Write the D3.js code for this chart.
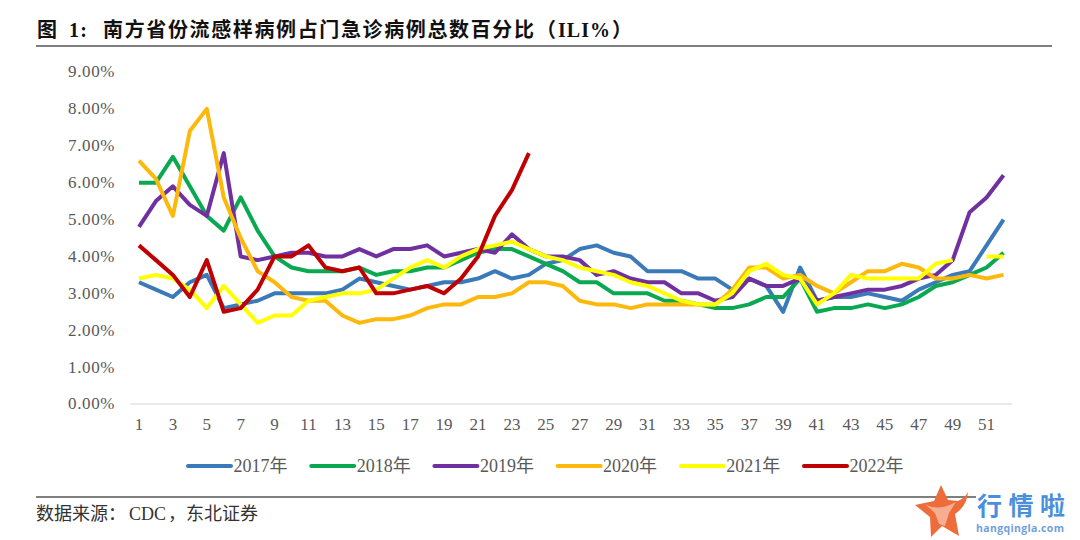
<!DOCTYPE html>
<html lang="zh">
<head>
<meta charset="utf-8">
<title>南方省份流感样病例占门急诊病例总数百分比</title>
<script src="https://d3js.org/d3.v7.min.js"></script>
<style>
    body {
        margin: 0;
        background-color: #ffffff;
    }

    text {
        font-family: "Liberation Serif", "Noto Sans CJK SC", serif;
    }

    .tick text {
        font-size: 17px;
        fill: #595959;
    }

    .yaxis .tick text {
        letter-spacing: 0.6px;
    }

    .legend text {
        font-size: 18px;
        fill: #595959;
    }
</style>
</head>
<body>
<svg id="chart" width="1080" height="540"></svg>
<script>
    const weeks = d3.range(1, 53);
    const yTicks = [0, 1, 2, 3, 4, 5, 6, 7, 8, 9];
    const years = ["2017年", "2018年", "2019年", "2020年", "2021年", "2022年"];
    const colors = ["#3a7ab8", "#0aa851", "#7030a0", "#fdb90b", "#ffff00", "#c00000"];

    const v2017 = [3.3, 3.1, 2.9, 3.3, 3.5, 2.6, 2.7, 2.8, 3.0, 3.0, 3.0, 3.0, 3.1, 3.4, 3.3, 3.2, 3.1, 3.2, 3.3, 3.3, 3.4, 3.6, 3.4, 3.5, 3.8, 3.9, 4.2, 4.3, 4.1, 4.0, 3.6, 3.6, 3.6, 3.4, 3.4, 3.1, 3.4, 3.2, 2.5, 3.7, 2.8, 2.9, 2.9, 3.0, 2.9, 2.8, 3.1, 3.3, 3.5, 3.6, 4.3, 5.0];
    const v2018 = [6.0, 6.0, 6.7, 5.9, 5.1, 4.7, 5.6, 4.7, 4.0, 3.7, 3.6, 3.6, 3.6, 3.7, 3.5, 3.6, 3.6, 3.7, 3.7, 3.9, 4.1, 4.2, 4.2, 4.0, 3.8, 3.6, 3.3, 3.3, 3.0, 3.0, 3.0, 2.8, 2.8, 2.7, 2.6, 2.6, 2.7, 2.9, 2.9, 3.4, 2.5, 2.6, 2.6, 2.7, 2.6, 2.7, 2.9, 3.2, 3.3, 3.5, 3.7, 4.1];
    const v2019 = [4.8, 5.5, 5.9, 5.4, 5.1, 6.8, 4.0, 3.9, 4.0, 4.1, 4.1, 4.0, 4.0, 4.2, 4.0, 4.2, 4.2, 4.3, 4.0, 4.1, 4.2, 4.1, 4.6, 4.2, 4.0, 4.0, 3.9, 3.5, 3.6, 3.4, 3.3, 3.3, 3.0, 3.0, 2.8, 2.9, 3.4, 3.2, 3.2, 3.4, 2.8, 2.9, 3.0, 3.1, 3.1, 3.2, 3.4, 3.5, 3.9, 5.2, 5.6, 6.2];
    const v2020 = [6.6, 6.1, 5.1, 7.4, 8.0, 5.6, 4.5, 3.6, 3.3, 2.9, 2.8, 2.8, 2.4, 2.2, 2.3, 2.3, 2.4, 2.6, 2.7, 2.7, 2.9, 2.9, 3.0, 3.3, 3.3, 3.2, 2.8, 2.7, 2.7, 2.6, 2.7, 2.7, 2.7, 2.7, 2.7, 3.1, 3.7, 3.7, 3.4, 3.5, 3.2, 3.0, 3.3, 3.6, 3.6, 3.8, 3.7, 3.4, 3.4, 3.5, 3.4, 3.5];
    const v2021 = [3.4, 3.5, 3.4, 3.1, 2.6, 3.2, 2.7, 2.2, 2.4, 2.4, 2.8, 2.9, 3.0, 3.0, 3.1, 3.4, 3.7, 3.9, 3.7, 4.0, 4.2, 4.3, 4.4, 4.2, 4.0, 3.9, 3.7, 3.6, 3.5, 3.3, 3.2, 3.0, 2.8, 2.7, 2.7, 3.0, 3.6, 3.8, 3.5, 3.4, 2.7, 3.0, 3.5, 3.4, 3.4, 3.4, 3.4, 3.8, 3.9, null, 4.0, 4.0];
    const v2022 = [4.3, 3.9, 3.5, 2.9, 3.9, 2.5, 2.6, 3.1, 4.0, 4.0, 4.3, 3.7, 3.6, 3.7, 3.0, 3.0, 3.1, 3.2, 3.0, 3.4, 4.0, 5.1, 5.8, 6.8];
    const allSeries = [v2017, v2018, v2019, v2020, v2021, v2022];

    const svg = d3.select("#chart");

    const x = d3.scaleBand().domain(weeks).range([130.5, 1012]);
    const y = d3.scaleLinear().domain([0, 9]).range([404, 72]);

    // title is pieced together, the latin parts are not spaced like the hanzi
    const titleParts = [
        {t: "图", x: 37, len: 18},
        {t: "1:", x: 69, len: 18},
        {t: "南方省份流感样病例占门急诊病例总数百分比", x: 103, len: 431},
        {t: "（", x: 536, len: 20},
        {t: "ILI%", x: 558, len: 52},
        {t: "）", x: 612, len: 20}
    ];
    svg.append("g").selectAll("text").data(titleParts).join("text")
        .attr("x", d => d.x).attr("y", 37)
        .attr("font-size", 20).attr("font-weight", "bold").attr("fill", "#111")
        .attr("textLength", d => d.len).attr("lengthAdjust", "spacing")
        .text(d => d.t);

    svg.append("line").attr("x1", 36).attr("x2", 1052).attr("y1", 46).attr("y2", 46)
        .attr("stroke", "#555").attr("stroke-width", 1.5);
    svg.append("line").attr("x1", 36).attr("x2", 976).attr("y1", 497).attr("y2", 497)
        .attr("stroke", "#555").attr("stroke-width", 1.5);

    const sourceParts = [
        {t: "数据来源：", x: 36},
        {t: "CDC", x: 129},
        {t: "，", x: 168},
        {t: "东北证券", x: 186}
    ];
    svg.append("g").selectAll("text").data(sourceParts).join("text")
        .attr("x", d => d.x).attr("y", 520)
        .attr("font-size", 18).attr("fill", "#333")
        .text(d => d.t);

    // axes
    const yAxis = d3.axisLeft(y).tickValues(yTicks).tickSize(0).tickPadding(0)
        .tickFormat(d => d3.format(".2f")(d) + "%");
    svg.append("g").attr("class", "yaxis").attr("transform", "translate(115,-0.5)").call(yAxis)
        .call(g => g.select(".domain").remove());

    const xAxis = d3.axisBottom(x).tickValues(weeks.filter(d => d % 2 == 1)).tickSize(0).tickPadding(0);
    svg.append("g").attr("transform", "translate(0,418)").call(xAxis)
        .call(g => g.select(".domain").remove());

    svg.append("line").attr("x1", x.range()[0]).attr("x2", x.range()[1])
        .attr("y1", y(0)).attr("y2", y(0))
        .attr("stroke", "#e3e3e3").attr("stroke-width", 1.5);

    // lines
    const line = d3.line()
        .defined(d => d != null)
        .x((d, i) => x(weeks[i]) + x.bandwidth() / 2)
        .y(d => y(d));

    svg.append("g").selectAll("path").data(allSeries).join("path")
        .attr("fill", "none")
        .attr("stroke", (d, i) => colors[i])
        .attr("stroke-width", 4)
        .attr("stroke-linejoin", "round")
        .attr("d", line);

    // legend
    const legendX = d3.scalePoint().domain(years).range([188, 804]);
    const legend = svg.append("g").attr("class", "legend").selectAll("g").data(years).join("g")
        .attr("transform", d => "translate(" + legendX(d) + ",466)");
    legend.append("line").attr("x1", 0).attr("x2", 43)
        .attr("stroke", (d, i) => colors[i]).attr("stroke-width", 4).attr("stroke-linecap", "round");
    legend.append("text").attr("x", 45.5).attr("y", 6).text(d => d);

    // watermark
    const logo = svg.append("g");
    logo.append("path")
        .attr("d", "M941 485 L948 500 L958 501 Q965 498 968 492 Q967 506 955 514 L959 536 L942 526 L931 537 L930 517 L915 505 L934 501 Z")
        .attr("fill", "#ee6c3a");
    logo.append("path")
        .attr("d", "M925 504 Q938 512 956 502 L949 513 L945 526 L939 524 L935 513 Z")
        .attr("fill", "#ffffff").attr("opacity", 0.45);
    logo.append("text")
        .attr("x", 977).attr("y", 515)
        .attr("font-size", 25).attr("font-weight", "bold").attr("fill", "#4a8fdc")
        .attr("textLength", 88).attr("lengthAdjust", "spacing")
        .style("font-family", "'Noto Sans CJK SC'")
        .text("行情啦");
    logo.append("text")
        .attr("x", 976).attr("y", 532)
        .attr("font-size", 10.5).attr("font-weight", "bold").attr("fill", "#6f9fdc")
        .style("font-family", "'Open Sans'")
        .attr("textLength", 88)
        .text("hangqingla.com");
</script>
</body>
</html>
